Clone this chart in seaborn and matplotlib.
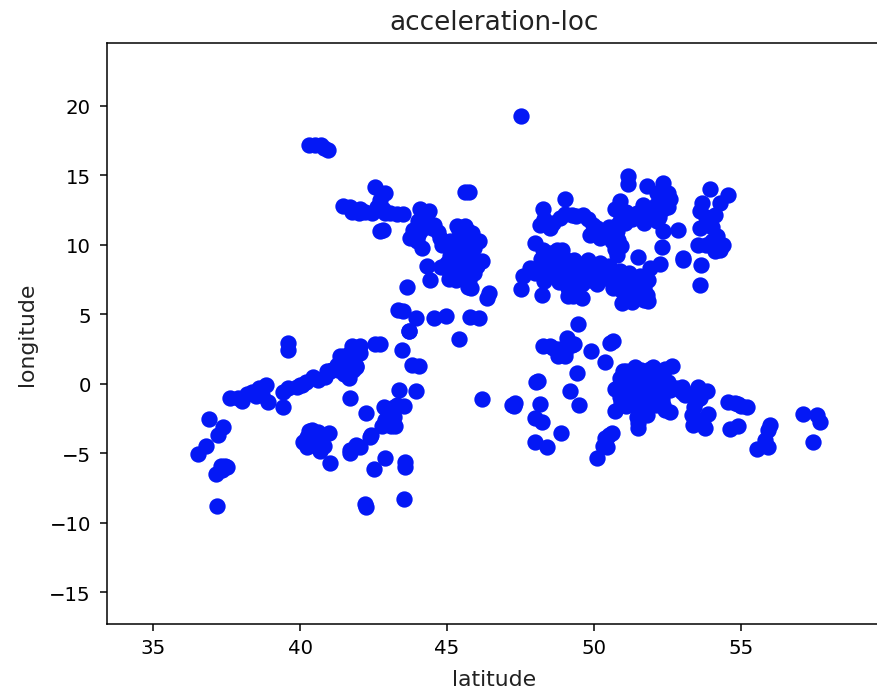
import matplotlib
matplotlib.use("Agg")
import matplotlib.pyplot as plt
import seaborn as sns
import pandas as pd

title = "acceleration-loc"
xlabel = "latitude"
ylabel = "longitude"

# north-east cluster
lat_ne = [51.17,51.17,51.79,52.36,52.53,52.58,52.24,52.13,50.88,50.71,51.68,51.45,52.36,49.01,48.27,48.16,48.5,48.84,
          49.24,49.63,49.97,49.86,50.31,50.77,50.82,50.77,51.05,51.79,52.13,52.36,52.87,52.3,51.5,52.24,51.9,50.88,
          51.56,51.85,51.79,51.85,50.94,51.28,50.65,50.94,51.34,50.43,
          47.99,48.27,48.73,48.84,48.5,48.56,47.82,47.59,47.5,48.22,
          49.29,49.24,49.29,49.8,50.2,49.86,49.52,50.2,49.12,48.9,48.6,
          53.94,54.54,53.68,54.28,53.6,54.11,53.6,53.89,53.55,54.17,54.4,54.11,53.04,53.04,53.63,53.6,
          48.6,49.0,49.4,49.8,50.1,50.5,50.2,50.9,50.8,51.1,51.3,51.7,52.0,52.2,52.5,52.4,52.1,50.6,50.9,50.7,48.3,48.4,
          48.2,48.5,48.6,48.9,49.0,48.7,48.9,48.3,48.0,48.3,48.3,48.8,49.1,49.1,49.5,49.3,49.6,49.4,49.1,49.6,50.0,49.7,50.5,50.3,50.1,
          50.6,50.8,51.1,51.3,51.1,51.5,51.7,51.1,51.5,51.7,51.3,51.6,51.2,
          54.0,54.3,53.8,53.8,54.0]
lon_ne = [14.95,14.35,14.23,14.47,13.75,13.27,13.27,13.75,13.15,12.55,12.9,12.3,12.55,13.27,12.55,11.46,11.2,11.94,
          12.18,12.18,11.46,10.74,10.98,10.98,10.38,9.3,11.58,12.06,11.7,10.98,11.1,9.85,9.13,8.65,8.34,8.1,
          7.74,7.5,6.4,5.93,5.81,6.17,6.9,6.65,7.0,7.6,
          10.14,9.66,9.66,9.18,8.94,7.86,8.34,7.74,6.82,6.42,
          8.46,7.26,6.3,8.94,8.7,7.5,7.98,7.86,6.9,8.3,8.5,
          14.03,13.58,13.02,13.02,12.42,12.18,11.22,11.7,10.02,10.62,10.02,9.54,8.94,9.06,8.58,7.09,
          11.6,12.2,12.1,11.9,11.2,11.3,10.5,12.0,11.5,12.4,11.9,11.6,12.6,12.0,12.7,13.4,12.9,10.3,9.9,9.7,11.9,11.6,
          9.0,9.4,8.9,9.6,9.0,8.4,7.9,8.6,8.0,8.0,7.4,7.3,7.6,8.3,8.6,8.9,7.2,6.7,6.3,6.2,8.3,8.3,8.5,8.1,7.2,
          7.3,7.4,7.5,7.7,6.9,6.8,6.9,6.3,6.3,6.0,5.9,7.5,8.0,
          10.3,9.6,10.0,12.0,11.3]

# south-east cluster
lat_se = [49.46,48.27,48.61,49.07,49.12,48.78,48.95,49.24,49.88,50.54,50.65,50.37,49.41,48.01,48.1,49.18,49.5,47.2,47.28,
          48.16,47.99,48.22,48.86,47.99,48.39,50.6,50.37,50.43,50.09,
          51.39,52.02,52.66,50.88,51.34,51.79,52.24,50.82,51.28,51.73,52.19,50.88,51.34,51.79,50.71,51.5,51.79,51.5,51.45,
          52.36,52.58,52.58,52.98,53.09,53.55,53.83,53.49,53.32,53.89,53.38,53.77,
          54.57,54.91,55.19,54.62,54.91,55.98,55.93,55.81,55.93,55.53,57.1,57.57,57.68,57.46,
          51.1,51.6,52.0,51.0,51.55,52.0,46.2,
          51.0,51.3,51.6,51.9,50.7,50.9,51.1,51.2,51.5,51.7,52.0,52.2,51.1,51.4,51.6,51.9,52.1,50.9,51.5,52.3,52.4,52.1,52.4,
          52.5,52.8,53.0,53.3,53.6,53.4,53.6,53.7,49.0,48.8,49.0,49.3,48.5,50.4,50.5,50.3,47.3,54.8,55.0]
lon_se = [4.3,2.69,2.57,3.29,2.69,1.97,2.2,2.81,2.33,2.93,3.05,1.56,0.76,0.16,0.2,-0.49,-1.52,-1.52,-1.57,
          -1.47,-2.43,-2.77,-3.56,-4.21,-4.57,-3.56,-3.92,-4.53,-5.37,
          1.24,1.24,1.32,0.4,0.4,0.4,0.4,-0.2,-0.32,-0.32,-0.44,-0.92,-1.04,-1.04,-1.93,-1.88,-2.24,-3.2,-2.36,
          -1.52,-2.0,-0.44,-0.2,-0.8,-0.2,-0.51,-1.16,-2.24,-2.19,-2.96,-3.2,
          -1.28,-1.47,-1.64,-3.25,-3.01,-2.96,-3.32,-4.04,-4.53,-4.7,-2.19,-2.24,-2.77,-4.21,
          0.9,0.8,0.8,-0.6,-0.7,-0.6,-1.1,
          0.9,0.9,1.0,1.1,-0.4,-1.3,-1.6,-0.1,0.1,-0.6,-0.1,-0.8,-0.9,-1.4,-1.7,-1.4,-1.5,-0.7,-2.8,-1.1,-1.9,0.9,1.1,
          0.1,-0.3,-0.6,-0.7,-1.0,-1.7,-2.6,-2.9,2.3,2.5,2.0,2.9,2.7,-4.0,-3.7,-4.5,-1.4,-1.4,-1.6]

# central band
lat_c = [42.53,42.89,45.75,45.6,41.47,41.76,42.04,42.44,42.83,43.06,43.51,42.72,42.83,44.08,44.37,44.2,44.54,44.76,44.82,
         43.85,43.74,44.14,43.97,45.33,45.61,45.84,46.07,45.44,45.67,45.39,45.78,46.18,46.01,45.33,45.05,45.56,45.82,45.73,
         46.41,46.35,44.31,44.42,43.63,43.34,43.51,43.95,43.69,44.54,44.97,45.78,46.07,45.39,
         47.5,40.3,40.5,40.7,40.8,40.95,
         44.3,44.5,44.7,44.9,45.1,45.1,45.3,45.5,45.6,45.0,44.8,45.2,45.5,45.7,45.9,45.9,45.7,45.4,45.1,45.3,45.7,
         44.1,44.0,44.0,41.7,42.0,42.2,42.6,42.7,42.9,43.3]
lon_c = [14.18,13.7,13.8,13.8,12.79,12.35,12.59,12.3,12.55,12.3,12.26,10.98,11.1,12.55,12.43,11.82,11.46,10.5,10.02,
         11.1,10.5,9.78,10.26,11.34,11.34,10.86,10.31,10.62,9.9,9.18,9.06,8.82,8.46,8.22,7.55,7.74,6.9,7.5,
         6.54,6.18,8.46,7.5,6.94,5.33,5.22,4.73,3.84,4.73,4.85,4.8,4.73,3.24,
         19.3,17.2,17.2,17.2,17.0,16.8,
         12.2,11.2,10.9,10.2,10.3,9.2,9.8,9.5,10.5,8.7,8.4,8.9,8.3,8.0,8.0,9.8,11.0,11.1,7.9,7.5,7.0,
         11.1,10.7,11.7,12.7,12.3,12.4,12.7,13.2,12.3,12.2]

# south-west arm
lat_sw = [39.6,39.6,43.69,42.72,42.55,43.46,43.8,44.06,
          41.76,42.04,41.36,41.82,42.04,41.25,41.65,41.65,40.85,40.45,40.06,39.6,39.43,38.83,38.36,38.02,37.62,38.64,38.92,39.41,
          41.0,41.5,41.9,41.68,42.25,43.37,43.95,43.54,42.86,43.18,42.89,43.23,42.38,42.04,41.7,41.68,
          36.9,37.39,37.19,36.8,36.51,37.45,37.34,37.14,37.17,
          40.4,40.62,40.97,40.23,40.57,40.23,40.68,40.45,41.0,
          42.88,42.5,43.57,43.57,42.21,42.25,43.52,
          41.3,41.4,41.5,41.6,41.5,41.7,41.9,41.9,41.4,41.8,41.1,40.9,40.6,40.2,39.9,40.0,38.6,38.7,38.5,37.9,38.2,37.5,37.3,
          40.3,40.5,40.7,40.3,40.1,40.8,41.9,42.4,43.1,43.0,43.2,43.3,43.1,42.8]
lon_sw = [2.93,2.45,3.77,2.88,2.9,2.45,1.37,1.32,
          2.69,2.69,1.97,1.85,2.21,1.37,1.25,0.4,0.52,0.52,-0.08,-0.32,-0.56,-0.08,-0.56,-1.21,-1.04,-0.68,-1.28,-1.64,
          0.9,0.7,1.2,-1.0,-2.07,-0.44,-0.48,-1.59,-1.69,-2.41,-2.6,-3.03,-3.8,-4.52,-4.76,-5.0,
          -2.5,-3.13,-3.68,-4.45,-5.05,-5.92,-6.21,-6.52,-8.78,
          -3.32,-3.44,-3.56,-3.8,-4.04,-4.57,-4.81,-4.4,-5.73,
          -5.36,-6.16,-5.6,-5.97,-8.61,-8.85,-8.3,
          1.0,1.6,2.0,1.6,1.0,2.2,1.3,2.4,1.3,1.0,1.0,0.9,0.3,0.1,-0.2,-0.1,-0.3,-0.8,-0.9,-1.0,-0.7,-6.0,-5.9,
          -4.2,-3.7,-3.8,-3.4,-4.2,-4.5,-4.4,-3.7,-2.9,-2.0,-1.7,-1.5,-3.0,-3.0]

df = pd.DataFrame({"lat": lat_ne + lat_se + lat_c + lat_sw,
                   "lon": lon_ne + lon_se + lon_c + lon_sw})

sns.set_theme(style="ticks", rc={"axes.linewidth": 0.8})
plt.rcParams["font.family"] = ["DejaVu Sans"]
fig = plt.figure(figsize=(8.78 / 1.37, 6.89 / 1.37), dpi=137)
ax = fig.add_axes([107 / 878, 1 - 625 / 689, (881 - 107) / 878, (625 - 44) / 689])
sns.scatterplot(data=df, x="lat", y="lon", color="#0418f5", s=50, linewidth=1.5,
                edgecolor="#0418f5", ax=ax, legend=False)
ax.set_xlim(33.43, 59.76)
ax.set_ylim(-17.28, 24.53)
ax.set_xticks([35, 40, 45, 50, 55])
ax.set_yticks([-15, -10, -5, 0, 5, 10, 15, 20])
ax.tick_params(labelsize=10.4, length=3.5, width=0.8, color="black", labelcolor="black")
ax.tick_params(axis="y", pad=5)
ax.tick_params(axis="x", pad=4)
for s in ax.spines.values():
    s.set_visible(True)
    s.set_color("black")
ax.set_title(title, fontsize=13.8, color="#222222", pad=7.5)
ax.set_xlabel(xlabel, fontsize=11.5, color="#222222", labelpad=6)
ax.set_ylabel(ylabel, fontsize=11.5, color="#222222", labelpad=6.5)
fig.savefig("out.png", dpi=137)
